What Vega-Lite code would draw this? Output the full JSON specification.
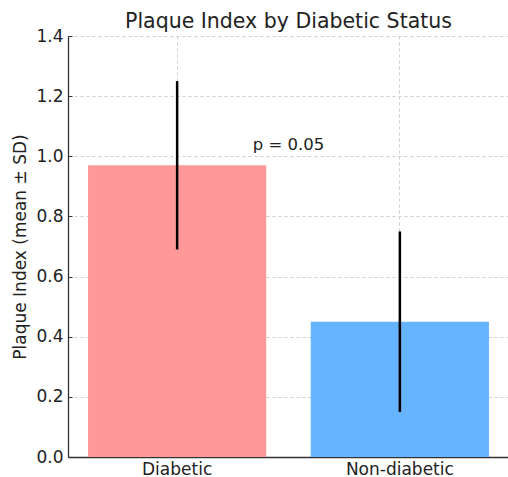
{
  "$schema": "https://vega.github.io/schema/vega-lite/v6.json",
  "width": 441,
  "height": 421,
  "autosize": {"type": "none"},
  "padding": {"left": 68, "top": 36, "right": 0, "bottom": 20},
  "background": "white",
  "title": {
    "text": "Plaque Index by Diabetic Status",
    "font": "DejaVu Sans",
    "fontSize": 20.5,
    "fontWeight": "normal",
    "color": "#222222",
    "anchor": "middle",
    "frame": "group",
    "offset": -5
  },
  "config": {
    "view": {"stroke": null},
    "font": "DejaVu Sans"
  },
  "datasets": {
    "stats": [
      {"status": "Diabetic", "mean": 0.97, "lower": 0.69, "upper": 1.25},
      {"status": "Non-diabetic", "mean": 0.45, "lower": 0.15, "upper": 0.75}
    ],
    "note": [
      {"label": "p = 0.05", "pos": 0.5, "value": 1.02}
    ]
  },
  "layer": [
    {
      "data": {"name": "stats"},
      "layer": [
        {
          "mark": {"type": "bar"},
          "encoding": {
            "x": {
              "field": "status",
              "type": "nominal",
              "sort": null,
              "scale": {"paddingInner": 0.2, "paddingOuter": 0.09},
              "axis": {
                "title": null,
                "labelAngle": 0,
                "labelFont": "DejaVu Sans",
                "labelFontSize": 17,
                "labelColor": "#222222",
                "labelPadding": 8,
                "domainColor": "#333333",
                "domainWidth": 1.3,
                "ticks": true,
                "tickSize": -4,
                "tickColor": "#333333",
                "tickWidth": 1,
                "bandPosition": 0.5,
                "grid": true,
                "gridColor": "#cccccc",
                "gridDash": [3, 3],
                "gridWidth": 1
              }
            },
            "y": {
              "field": "mean",
              "type": "quantitative",
              "scale": {"domain": [0, 1.4], "nice": false, "zero": true},
              "axis": {
                "title": "Plaque Index (mean ± SD)",
                "titleFont": "DejaVu Sans",
                "titleFontSize": 17,
                "titleFontWeight": "normal",
                "titleColor": "#222222",
                "titlePadding": 6,
                "values": [0, 0.2, 0.4, 0.6, 0.8, 1.0, 1.2, 1.4],
                "format": ".1f",
                "labelFont": "DejaVu Sans",
                "labelFontSize": 17,
                "labelColor": "#222222",
                "labelPadding": 9,
                "domainColor": "#333333",
                "domainWidth": 1.3,
                "ticks": true,
                "tickSize": -4,
                "tickColor": "#333333",
                "grid": true,
                "gridColor": "#cccccc",
                "gridDash": [3, 3],
                "gridWidth": 1
              }
            },
            "color": {
              "field": "status",
              "type": "nominal",
              "scale": {"domain": ["Diabetic", "Non-diabetic"], "range": ["#ff9999", "#66b3ff"]},
              "legend": null
            }
          }
        },
        {
          "mark": {"type": "rule", "color": "black", "strokeWidth": 2.5},
          "encoding": {
            "x": {"field": "status", "type": "nominal", "sort": null},
            "y": {"field": "lower", "type": "quantitative"},
            "y2": {"field": "upper"}
          }
        }
      ]
    },
    {
      "data": {"name": "note"},
      "mark": {"type": "text", "font": "DejaVu Sans", "fontSize": 16.5, "color": "#222222", "align": "center", "baseline": "alphabetic"},
      "encoding": {
        "x": {"field": "pos", "type": "quantitative", "scale": {"domain": [-0.49, 1.49], "nice": false, "zero": false}, "axis": null},
        "y": {"field": "value", "type": "quantitative"},
        "text": {"field": "label"}
      }
    }
  ],
  "resolve": {"scale": {"x": "independent"}}
}
